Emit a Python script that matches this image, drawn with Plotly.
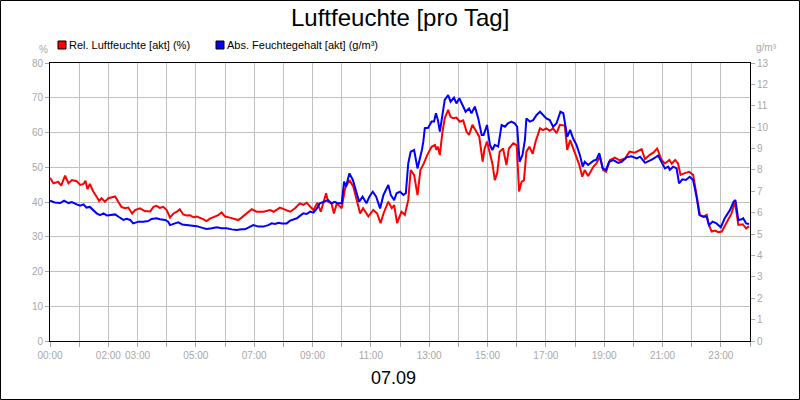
import pandas as pd
import plotly.graph_objects as go

# Relative humidity (%) - minutes after midnight and values
rel_min = [0, 7, 17, 23, 31, 38, 45, 55, 62, 69, 73, 77, 82, 89, 96, 101, 106, 113, 120, 127,
           134, 141, 147, 154, 161, 169, 175, 185, 195, 206, 213, 219, 226, 233, 240, 247, 254,
           261, 267, 274, 281, 288, 295, 302, 309, 315, 322, 329, 339, 346, 353, 360, 370, 381,
           387, 394,
           401, 415, 425, 439, 453, 460, 473, 484, 494, 504, 514, 521, 528, 535, 542, 550, 557,
           568, 572, 579, 584, 590, 600, 607, 616, 624, 631, 638, 644, 655, 665, 673, 680, 686,
           696, 703, 708, 714, 723, 730, 737, 742, 749, 756, 762, 769, 776,
           785, 792, 795, 798, 802, 807, 812, 819,
           824, 829, 836, 843, 850, 857, 862, 869, 876, 883, 890, 894, 899, 905, 910, 915, 920,
           925, 932, 939, 944, 953, 960, 965, 970, 975, 980, 986, 993, 999, 1008, 1014, 1021,
           1028, 1035, 1042, 1049,
           1059, 1064, 1070, 1076, 1083, 1089, 1095, 1100, 1107, 1118, 1124, 1131, 1138, 1144,
           1152, 1162, 1172, 1183, 1192, 1203, 1217, 1224, 1233, 1241, 1249, 1258, 1265, 1274,
           1279, 1286, 1292, 1297, 1306, 1315, 1323, 1330, 1337, 1344, 1351, 1354, 1361, 1368,
           1375, 1382, 1392, 1402, 1409, 1416, 1425, 1432, 1438]
rel_val = [47.0, 45.4, 45.8, 44.7, 47.6, 45.4, 46.3, 46.0, 44.9, 45.2, 46.1, 43.7, 45.2, 43.0,
           41.5, 40.3, 41.1, 40.1, 41.1, 41.3, 41.6, 39.9, 38.6, 38.2, 38.4, 36.7, 37.7, 38.2,
           37.4, 37.3, 38.6, 38.9, 38.3, 38.6, 37.7, 35.5, 36.7, 37.2, 37.9, 36.4, 36.1, 36.2,
           35.6, 35.8, 35.5, 35.1, 34.5, 35.2, 35.8, 36.2, 37.0, 35.8, 35.5, 35.1, 34.8, 35.5,
           36.3, 37.9, 37.2, 37.2, 37.7, 37.2, 38.4, 37.7, 37.2, 38.2, 39.6, 39.2, 39.8, 38.7,
           37.7, 39.8, 37.2,
           42.5, 40.1, 39.6, 36.7, 39.6, 38.2, 43.9, 46.3, 44.4, 40.6, 36.7, 38.2, 35.8, 37.7,
           36.7, 33.9, 36.7, 40.1, 38.2, 39.1, 33.9, 37.2, 36.3, 40.6, 49.2, 47.8, 42.0, 49.2,
           51.1, 53.5,
           55.9, 56.4, 55.0, 55.9, 53.5, 59.8, 64.1, 66.5, 64.5, 64.1, 64.3, 63.1, 63.5, 60.2,
           59.3, 62.2, 60.7, 58.8, 51.6,
           55.4, 57.4, 54.0, 51.1, 46.3, 48.3, 54.5, 55.4, 50.6, 55.4, 56.9, 56.4, 43.0, 45.8,
           46.3, 54.5, 55.9, 53.9, 57.4, 61.2, 60.7, 61.2, 60.5, 61.2, 59.8, 62.2,
           62.0, 55.0, 57.8, 55.4, 53.0, 50.6, 47.3, 49.2, 47.5, 50.2, 51.1, 53.0, 49.2, 48.7,
           52.1, 52.8, 52.0, 52.5, 54.5, 54.2, 55.2, 52.3, 53.5, 54.2, 55.4, 52.1, 51.1, 52.1,
           51.0, 52.1, 51.1, 47.8, 48.3, 48.7, 47.8, 41.5, 36.3, 35.8, 36.3, 33.9, 31.5, 31.8,
           31.3, 31.5, 33.9, 36.7, 40.1, 33.4, 33.6, 32.4, 33.0]

# Absolute humidity (g/m³)
abs_min = [0, 10, 21, 29, 38, 45, 55, 62, 69, 75, 82, 89, 96, 103, 110, 117, 127, 134, 141, 151,
           158, 165, 171, 182, 192, 202, 209, 219, 226, 237, 243, 247, 257, 264, 272, 281, 291,
           302, 312, 322, 333, 343, 353, 363, 374, 384, 394,
           401, 412, 418, 429, 439, 449, 456, 463, 470, 477, 487, 494, 501, 508, 514, 521, 528,
           535, 542, 549,
           555, 562, 572, 579, 586, 592, 600, 605, 609, 616, 623, 629, 636, 643, 651, 657, 664,
           671, 679, 686, 696, 701, 708, 713, 720, 727, 732, 737, 742, 749, 756, 765,
           768, 771, 778, 785, 790, 794, 798,
           802, 807, 812, 819, 824, 831, 836, 842, 848, 855, 862, 867, 874, 881, 888, 892, 899,
           905, 910, 915, 922, 929, 936, 942, 949, 956, 961, 966, 972, 977, 980, 987, 994, 1001,
           1008, 1014, 1021, 1028, 1035, 1042, 1050, 1056,
           1064, 1070, 1076, 1083, 1090, 1096, 1100, 1107, 1118, 1124, 1130, 1137, 1144, 1150,
           1159, 1169, 1176, 1186, 1196, 1207, 1214, 1224, 1238, 1251, 1258, 1265, 1272, 1275,
           1282, 1289, 1294, 1301, 1308, 1316, 1323, 1330, 1336, 1344, 1351, 1356, 1363, 1371,
           1380, 1388, 1399, 1406, 1410, 1416, 1423, 1426, 1432, 1438]
abs_val = [6.56, 6.48, 6.45, 6.56, 6.45, 6.50, 6.39, 6.33, 6.39, 6.24, 6.27, 6.13, 5.97, 5.89,
           5.97, 5.87, 5.89, 5.92, 5.81, 5.66, 5.71, 5.66, 5.50, 5.58, 5.58, 5.61, 5.71, 5.74,
           5.69, 5.66, 5.58, 5.42, 5.50, 5.55, 5.45, 5.42, 5.39, 5.37, 5.30, 5.24, 5.27, 5.32,
           5.27, 5.27, 5.22, 5.19, 5.22,
           5.22, 5.35, 5.42, 5.35, 5.35, 5.42, 5.50, 5.47, 5.53, 5.50, 5.50, 5.63, 5.69, 5.74,
           5.85, 5.97, 5.94, 6.05, 6.00, 6.20,
           6.44, 6.51, 6.59, 6.44, 6.51, 6.44, 6.44, 7.45, 7.22, 7.84, 7.53, 7.06, 6.51, 6.75,
           6.44, 6.75, 6.98, 6.75, 6.20, 6.83, 7.30, 6.83, 6.59, 6.91, 6.98, 6.83, 6.91, 8.31,
           8.85, 8.93, 8.07, 8.93,
           9.32, 9.95, 9.97, 10.26, 10.26, 10.65, 10.33,
           9.79, 10.65, 11.27, 11.50, 11.19, 11.38, 11.11, 11.35, 11.04,
           10.72, 10.88, 10.65, 10.96, 10.41, 9.63, 9.63, 10.10, 9.17, 8.93, 9.17, 9.09, 10.10,
           10.02, 10.18, 10.26, 10.18, 10.02, 8.38, 8.70, 9.40, 10.41, 10.26, 10.33, 10.57,
           10.72, 10.57, 10.41, 10.33, 10.02, 10.18, 10.72, 10.65,
           9.55, 9.87, 9.48, 9.17, 8.70, 8.15, 8.38, 8.23, 8.43, 8.48, 8.78, 8.07, 8.00, 8.38,
           8.46, 8.33, 8.38, 8.59, 8.64, 8.54, 8.62, 8.33, 8.48, 8.67, 8.38, 8.07, 8.15, 8.00,
           8.15, 8.07, 7.37, 7.56, 7.53, 7.68, 7.53, 6.75, 5.89, 5.81, 5.81, 5.42, 5.58, 5.50,
           5.32, 5.74, 6.13, 6.51, 6.59, 5.66, 5.69, 5.74, 5.50, 5.47]

day = pd.Timestamp("2023-09-07")
rel_t = day + pd.to_timedelta(rel_min, unit="min")
abs_t = day + pd.to_timedelta(abs_min, unit="min")

hours = list(range(25))
shown = {0, 2, 3, 5, 7, 9, 11, 13, 15, 17, 19, 21, 23}
tick_vals = [day + pd.Timedelta(hours=h) for h in hours]
tick_text = [f"{h:02d}:00" if h in shown else "" for h in hours]

rel_name = "Rel. Luftfeuchte [akt] (%)"
abs_name = "Abs. Feuchtegehalt [akt] (g/m³)"
RED = "#ff0000"
BLUE = "#0000ff"
GRID = "#c0c0c0"
TICKC = "#a8a8a8"
FONT = "Liberation Sans, Arial, sans-serif"
TICKFONT = dict(family=FONT, size=10, color=TICKC)

fig = go.Figure()
fig.add_trace(go.Scatter(x=rel_t, y=rel_val, mode="lines", name=rel_name,
                         line=dict(color=RED, width=2), yaxis="y"))
fig.add_trace(go.Scatter(x=abs_t, y=abs_val, mode="lines", name=abs_name,
                         line=dict(color=BLUE, width=2), yaxis="y2"))

W, H = 800, 400
L, R, T, B = 50, 50, 63, 59
pw, ph = W - L - R, H - T - B


def px(x):
    return (x - L) / pw


def py(y):
    return (H - B - y) / ph


fig.update_layout(
    width=W, height=H,
    margin=dict(l=L, r=R, t=T, b=B, autoexpand=False),
    paper_bgcolor="white", plot_bgcolor="white",
    showlegend=False,
    font=dict(family=FONT, size=11, color=TICKC),
    xaxis=dict(range=[day, day + pd.Timedelta(hours=24)], tickmode="array",
               tickvals=tick_vals, ticktext=tick_text, tickangle=0, automargin=False,
               showgrid=True, gridcolor=GRID,
               gridwidth=1, showline=True, linecolor="black", linewidth=1, mirror=True,
               ticks="outside", ticklen=5, tickcolor=TICKC, zeroline=False,
               tickfont=TICKFONT),
    yaxis=dict(range=[0, 80], tickmode="array", tickvals=list(range(0, 81, 10)),
               automargin=False,
               showgrid=True, gridcolor=GRID, gridwidth=1, showline=True, linecolor="black",
               linewidth=1, ticks="outside", ticklen=4, tickcolor=TICKC, zeroline=False,
               tickfont=TICKFONT),
    yaxis2=dict(range=[0, 13], tickmode="array", tickvals=list(range(0, 14)),
                automargin=False,
                overlaying="y", side="right", showgrid=False, showline=True,
                linecolor="black", linewidth=1, ticks="outside", ticklen=4,
                tickcolor=TICKC, zeroline=False, tickfont=TICKFONT),
)

annotations = [
    dict(text="Luftfeuchte [pro Tag]", x=px(400), y=py(18), xref="paper", yref="paper",
         xanchor="center", yanchor="middle", showarrow=False,
         font=dict(family=FONT, size=24, color="black")),
    dict(text="07.09", x=px(393), y=py(378), xref="paper", yref="paper",
         xanchor="center", yanchor="middle", showarrow=False,
         font=dict(family=FONT, size=18, color="black")),
    dict(text=rel_name, x=px(67), y=py(45), xref="paper", yref="paper",
         xanchor="left", yanchor="middle", showarrow=False,
         font=dict(family=FONT, size=11, color="black")),
    dict(text=abs_name, x=px(225), y=py(45), xref="paper", yref="paper",
         xanchor="left", yanchor="middle", showarrow=False,
         font=dict(family=FONT, size=11, color="black")),
    dict(text="%", x=px(43), y=py(49), xref="paper", yref="paper",
         xanchor="center", yanchor="middle", showarrow=False,
         font=dict(family=FONT, size=10, color=TICKC)),
    dict(text="g/m³", x=px(766), y=py(48), xref="paper", yref="paper",
         xanchor="center", yanchor="middle", showarrow=False,
         font=dict(family=FONT, size=10, color=TICKC)),
]
fig.update_layout(annotations=annotations)

shapes = [
    dict(type="rect", xref="paper", yref="paper", x0=px(58), x1=px(66), y0=py(49), y1=py(41),
         fillcolor=RED, line=dict(color="black", width=1)),
    dict(type="rect", xref="paper", yref="paper", x0=px(216), x1=px(224), y0=py(49), y1=py(41),
         fillcolor=BLUE, line=dict(color="black", width=1)),
    dict(type="rect", xref="paper", yref="paper", x0=px(0.5), x1=px(799.5), y0=py(399.5),
         y1=py(0.5), line=dict(color="black", width=1), fillcolor="rgba(0,0,0,0)",
         layer="above"),
]
fig.update_layout(shapes=shapes)

fig.write_html("out.html", config={"displayModeBar": False},
               post_script="document.body.style.margin='0';"
                           "document.body.style.overflow='hidden';")
